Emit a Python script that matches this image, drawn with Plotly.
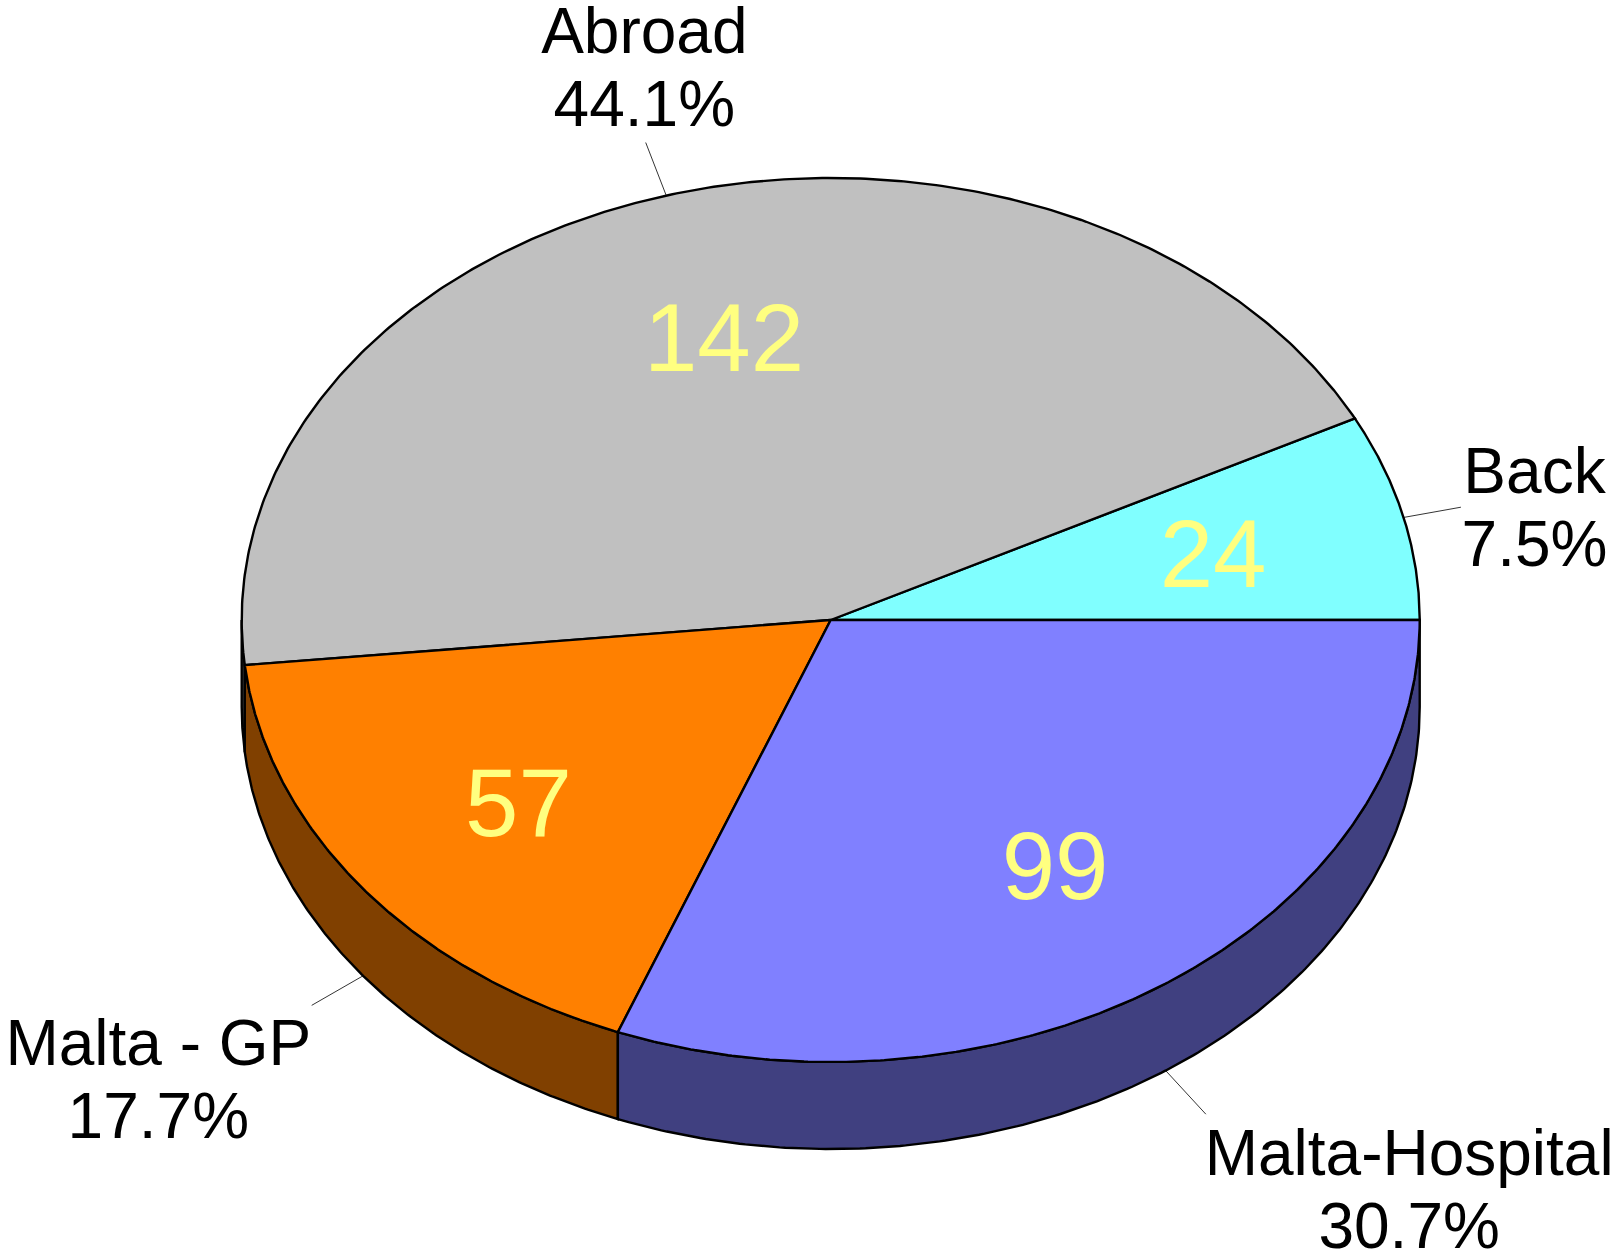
import numpy as np
import plotly.graph_objects as go

# Data
categories = ["Back", "Abroad", "Malta - GP", "Malta-Hospital"]
values = [24, 142, 57, 99]
percent_labels = ["7.5%", "44.1%", "17.7%", "30.7%"]

# Styles
top_colors = ["#80FFFF", "#C0C0C0", "#FF8000", "#8080FF"]
wall_colors = ["#408080", "#606060", "#804000", "#404080"]
FONT = "Liberation Sans"

# Pie geometry, in page pixels
W, H = 1612, 1253
CX, CY, RX, RY, DEPTH = 830.7, 620.0, 589.0, 442.0, 87.0
LABEL_SIZE, VALUE_SIZE = 64, 96
LABEL_K, VALUE_K, VALUE_DY = 1.115, 0.67, 11.5
VALUE_DX = [-1.5, 3.5, 1, 0]
LEAD_KS = [1.10, 1.125, 1.11, 1.12]
BOUNDARY_NUDGE = [0.0, 0.3, 0.27, -0.5]  # degrees, start of each slice, drawn rim vs. exact share
LABEL_OFFSETS = [(65, -29), (-3, -110), (-151, 42), (205, 47)]  # name-line offset from label anchor
LINE_PITCH = 73
EDGE = 2.4


def rim(deg, k=1.0):
    a = np.radians(deg)
    return CX + k * RX * np.cos(a), CY - k * RY * np.sin(a)


total = sum(values)
sweeps = [v / total * 360 for v in values]
starts = np.cumsum([0] + sweeps[:-1])
ends = starts + np.array(sweeps)
mids = (starts + ends) / 2
draw_starts = starts + np.array(BOUNDARY_NUDGE)
draw_ends = np.r_[draw_starts[1:], 360.0]

fig = go.Figure()

# Outer walls: only the part of each slice rim in the front half (180..360 deg)
for s, e, c in zip(draw_starts, draw_ends, wall_colors):
    a0, a1 = max(s, 180), min(e, 360)
    if a1 <= a0:
        continue
    t = np.linspace(a0, a1, 200)
    x, y = rim(t)
    fig.add_trace(go.Scatter(
        x=np.r_[x, x[::-1], x[0]], y=np.r_[y, y[::-1] + DEPTH, y[0]],
        mode="lines", fill="toself", fillcolor=c,
        line=dict(color="black", width=EDGE), hoverinfo="skip"))

# Leader lines, from the outer rim outward
for m, lk in zip(mids, LEAD_KS):
    dy = DEPTH if 180 < m < 360 else 0
    x0, y0 = rim(m)
    x1, y1 = rim(m, lk)
    fig.add_trace(go.Scatter(x=[x0, x1], y=[y0 + dy, y1 + dy], mode="lines",
                             line=dict(color="black", width=0.8), hoverinfo="skip"))

# Top faces
for s, e, c in zip(draw_starts, draw_ends, top_colors):
    t = np.linspace(s, e, 300)
    x, y = rim(t)
    fig.add_trace(go.Scatter(
        x=np.r_[CX, x, CX], y=np.r_[CY, y, CY],
        mode="lines", fill="toself", fillcolor=c,
        line=dict(color="black", width=EDGE), hoverinfo="skip"))

# Value labels inside the slices
vx, vy = rim(mids, VALUE_K)
fig.add_trace(go.Scatter(x=vx + np.array(VALUE_DX), y=vy + VALUE_DY, mode="text",
                         text=[str(v) for v in values],
                         textposition="middle center",
                         textfont=dict(family=FONT, size=VALUE_SIZE, color="#FFFF80"),
                         hoverinfo="skip"))

# Outer labels, one text per line
lx, ly, ptx, pty = [], [], [], []
for m, (ox, oy) in zip(mids, LABEL_OFFSETS):
    dy = DEPTH if 180 < m < 360 else 0
    x1, y1 = rim(m, LABEL_K)
    lx.append(x1 + ox)
    ly.append(y1 + dy + oy)
    ptx.append(x1 + ox)
    pty.append(y1 + dy + oy + LINE_PITCH)
for xs, ys, txt in [(lx, ly, categories), (ptx, pty, percent_labels)]:
    fig.add_trace(go.Scatter(x=xs, y=ys, mode="text", text=txt,
                             textposition="middle center", cliponaxis=False,
                             textfont=dict(family=FONT, size=LABEL_SIZE, color="black"),
                             hoverinfo="skip"))

fig.update_layout(
    width=W, height=H, margin=dict(l=0, r=0, t=0, b=0),
    paper_bgcolor="white", plot_bgcolor="white", showlegend=False,
    xaxis=dict(range=[0, W], visible=False),
    yaxis=dict(range=[H, 0], visible=False),
)
fig.write_html("out.html", config=dict(displayModeBar=False),
               post_script="document.body.style.margin='0';document.body.style.overflow='hidden';")
